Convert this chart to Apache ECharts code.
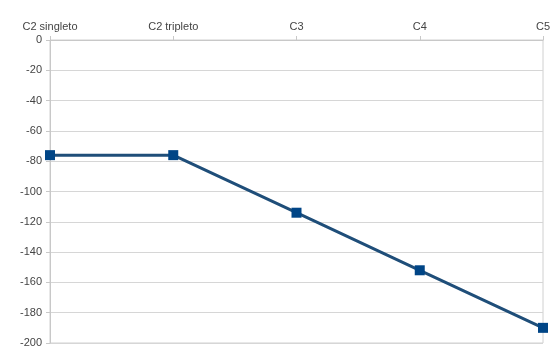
<!DOCTYPE html>
<html>
<head>
<meta charset="utf-8">
<script src="https://cdn.jsdelivr.net/npm/echarts@6/dist/echarts.min.js"></script>
<style>
  html, body { margin: 0; padding: 0; background: #fff; }
  #chart { width: 555px; height: 349px; }
</style>
</head>
<body>
<div id="chart"></div>
<script>
// data
var categories = ['C2 singleto', 'C2 tripleto', 'C3', 'C4', 'C5'];
var energies = [-76, -76, -114, -152, -190];
var yTicks = { min: -200, max: 0, step: 20 };

var myChart = echarts.init(document.getElementById('chart'));

var option = {
    animation: false,
    grid: {
        left: 50,
        right: 12,
        top: 40,
        bottom: 6,
        show: true,
        borderColor: '#d0d0d0',
        borderWidth: 1
    },
    xAxis: {
        type: 'category',
        position: 'top',
        data: categories,
        boundaryGap: false,
        axisLine: { show: true, lineStyle: { color: '#c8c8c8' } },
        axisTick: { show: true, length: 4, lineStyle: { color: '#c8c8c8' } },
        axisLabel: {
            color: '#444',
            fontSize: 11,
            fontFamily: 'Liberation Sans',
            margin: 8,
            interval: 0
        },
        splitLine: { show: false }
    },
    yAxis: {
        type: 'value',
        min: yTicks.min,
        max: yTicks.max,
        interval: yTicks.step,
        axisLine: { show: true, lineStyle: { color: '#c8c8c8' } },
        axisTick: { show: true, length: 4, lineStyle: { color: '#c8c8c8' } },
        axisLabel: {
            color: '#444',
            fontSize: 11,
            fontFamily: 'Liberation Sans',
            margin: 8
        },
        splitLine: { show: true, lineStyle: { color: '#d6d6d6' } }
    },
    series: [{
        type: 'line',
        data: energies,
        symbol: 'rect',
        symbolSize: 10,
        itemStyle: { color: '#004586' },
        lineStyle: { color: '#1f4e79', width: 3 }
    }]
};

myChart.setOption(option);
</script>
</body>
</html>
